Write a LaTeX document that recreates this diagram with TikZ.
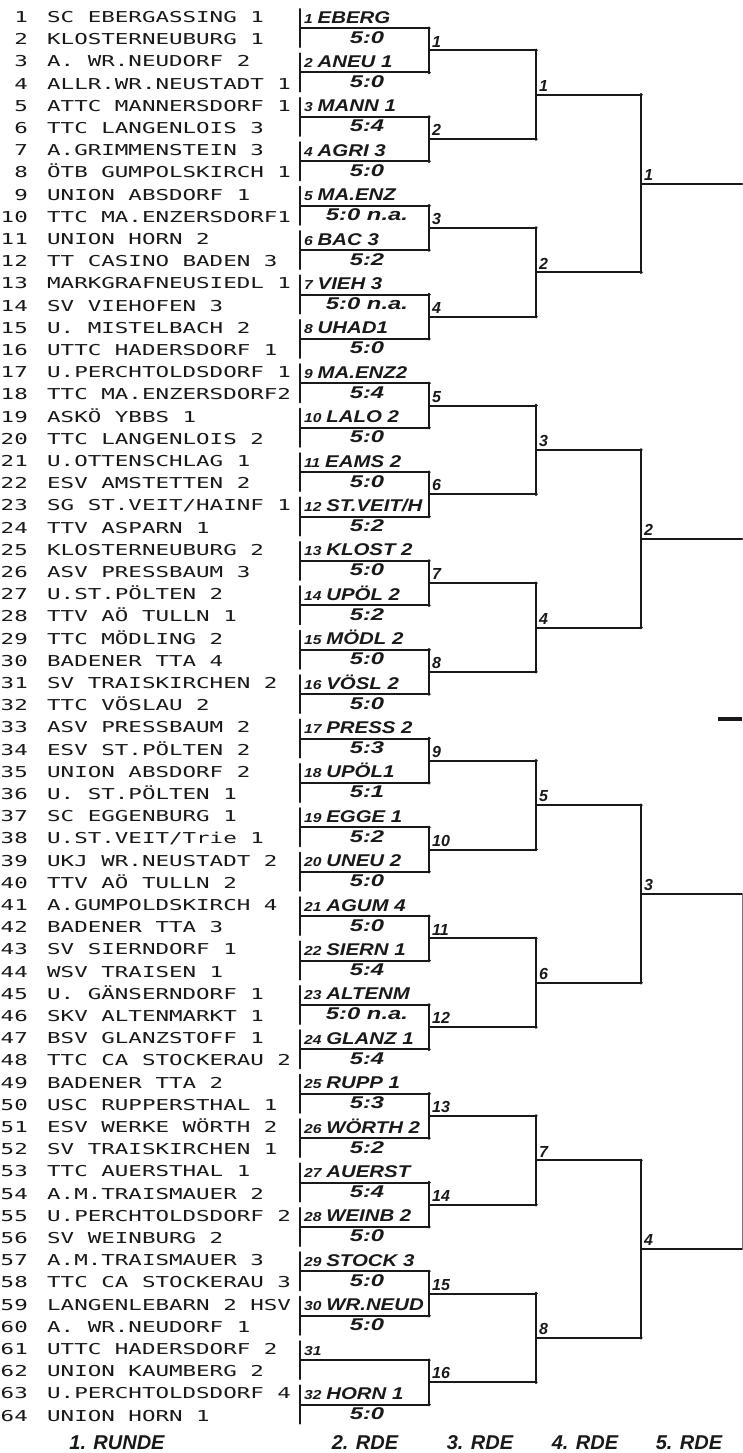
\documentclass[tikz,border=0pt]{standalone}
\usepackage{fontspec}
\usepackage{graphicx}
\newfontfamily\listfont{DejaVu Sans Mono}
\newfontfamily\handfont{Liberation Sans}
\definecolor{ink}{gray}{0.1}
\newcommand{\wide}[1]{\scalebox{1.5}[1]{#1}}
\newcommand{\hand}[1]{\scalebox{1.2}[1]{#1}}
\newcommand{\handres}[1]{\scalebox{1.4}[1]{#1}}
\newcommand{\nr}[1]{{\fontsize{13}{13}\selectfont #1}\hspace{4pt}}
\tikzset{
  seed/.style={anchor=base east, inner sep=0pt, text=ink, font=\listfont\fontsize{15}{15}\selectfont},
  team/.style={anchor=base west, inner sep=0pt, text=ink, font=\listfont\fontsize{15}{15}\selectfont},
  winner/.style={anchor=base west, inner sep=0pt, text=ink, font=\handfont\bfseries\itshape\fontsize{17}{17}\selectfont},
  result/.style={anchor=base, inner sep=0pt, text=ink, font=\handfont\bfseries\itshape\fontsize{17}{17}\selectfont},
  rnd/.style={anchor=south west, inner sep=0pt, xshift=3pt, yshift=3pt, text=ink, font=\handfont\bfseries\itshape\fontsize{16}{16}\selectfont},
  rdelabel/.style={anchor=base, inner sep=0pt, text=ink, font=\handfont\bfseries\itshape\fontsize{20}{20}\selectfont},
  bracket/.style={draw=ink, line width=2pt, line cap=round, line join=round},
}
\begin{document}
\begin{tikzpicture}[x=1pt,y=-1pt]
\fill[white] (0,0) rectangle (742,1453);
\useasboundingbox (0,0) rectangle (742,1453);

% 1. Runde: the 64 clubs
\foreach \n/\club in {1/{SC EBERGASSING 1}, 2/{KLOSTERNEUBURG 1}, 3/{A. WR.NEUDORF 2},
    4/{ALLR.WR.NEUSTADT 1}, 5/{ATTC MANNERSDORF 1}, 6/{TTC LANGENLOIS 3},
    7/{A.GRIMMENSTEIN 3}, 8/{ÖTB GUMPOLSKIRCH 1}, 9/{UNION ABSDORF 1},
    10/{TTC MA.ENZERSDORF1}, 11/{UNION HORN 2}, 12/{TT CASINO BADEN 3},
    13/{MARKGRAFNEUSIEDL 1}, 14/{SV VIEHOFEN 3}, 15/{U. MISTELBACH 2},
    16/{UTTC HADERSDORF 1}, 17/{U.PERCHTOLDSDORF 1}, 18/{TTC MA.ENZERSDORF2},
    19/{ASKÖ YBBS 1}, 20/{TTC LANGENLOIS 2}, 21/{U.OTTENSCHLAG 1},
    22/{ESV AMSTETTEN 2}, 23/{SG ST.VEIT/HAINF 1}, 24/{TTV ASPARN 1},
    25/{KLOSTERNEUBURG 2}, 26/{ASV PRESSBAUM 3}, 27/{U.ST.PÖLTEN 2},
    28/{TTV AÖ TULLN 1}, 29/{TTC MÖDLING 2}, 30/{BADENER TTA 4},
    31/{SV TRAISKIRCHEN 2}, 32/{TTC VÖSLAU 2}, 33/{ASV PRESSBAUM 2},
    34/{ESV ST.PÖLTEN 2}, 35/{UNION ABSDORF 2}, 36/{U. ST.PÖLTEN 1},
    37/{SC EGGENBURG 1}, 38/{U.ST.VEIT/Trie 1}, 39/{UKJ WR.NEUSTADT 2},
    40/{TTV AÖ TULLN 2}, 41/{A.GUMPOLDSKIRCH 4}, 42/{BADENER TTA 3},
    43/{SV SIERNDORF 1}, 44/{WSV TRAISEN 1}, 45/{U. GÄNSERNDORF 1},
    46/{SKV ALTENMARKT 1}, 47/{BSV GLANZSTOFF 1}, 48/{TTC CA STOCKERAU 2},
    49/{BADENER TTA 2}, 50/{USC RUPPERSTHAL 1}, 51/{ESV WERKE WÖRTH 2},
    52/{SV TRAISKIRCHEN 1}, 53/{TTC AUERSTHAL 1}, 54/{A.M.TRAISMAUER 2},
    55/{U.PERCHTOLDSDORF 2}, 56/{SV WEINBURG 2}, 57/{A.M.TRAISMAUER 3},
    58/{TTC CA STOCKERAU 3}, 59/{LANGENLEBARN 2 HSV}, 60/{A. WR.NEUDORF 1},
    61/{UTTC HADERSDORF 2}, 62/{UNION KAUMBERG 2}, 63/{U.PERCHTOLDSDORF 4},
    64/{UNION HORN 1}}{
  \node[seed] (n\n) at (28,{22.5+(\n-1)*22.2}) {\wide{\n}};
  \node[team] (t\n) at (47,{22.5+(\n-1)*22.2}) {\wide{\club}};
}

% bracket points, one column per round
\foreach \k in {1,...,32} \coordinate (a\k) at (300,{28.1+(\k-1)*44.4});
\foreach \j in {1,...,16} \coordinate (b\j) at (429,{50.3+(\j-1)*88.8});
\foreach \m in {1,...,8} \coordinate (c\m) at (536,{94.7+(\m-1)*177.6});
\foreach \q in {1,...,4} \coordinate (d\q) at (641,{183.5+(\q-1)*355.2});
\foreach \q in {1,...,4} \coordinate (e\q) at (742,{183.5+(\q-1)*355.2});

% 1. -> 2. Runde
\foreach \k in {1,...,32}
  \draw[bracket] ([yshift=19.1pt]a\k) -- ([yshift=-19.1pt]a\k) (a\k) -- (a\k -| b1);
% 2. -> 3. Runde
\foreach \j [evaluate=\j as \ka using int(2*\j-1), evaluate=\j as \kb using int(2*\j)] in {1,...,16}{
  \draw[bracket] (a\ka -| b\j) -- (a\kb -| b\j) (b\j) -- (b\j -| c1);
  \fill[ink] (a\ka -| b\j) circle (1.8pt) (a\kb -| b\j) circle (1.8pt);
  \node[rnd] (r2-\j) at (b\j) {\j};
}
% 3. -> 4. Runde
\foreach \m [evaluate=\m as \ja using int(2*\m-1), evaluate=\m as \jb using int(2*\m)] in {1,...,8}{
  \draw[bracket] (b\ja -| c\m) -- (b\jb -| c\m) (c\m) -- (c\m -| d1);
  \fill[ink] (b\ja -| c\m) circle (1.8pt) (b\jb -| c\m) circle (1.8pt);
  \node[rnd] (r3-\m) at (c\m) {\m};
}
% 4. -> 5. Runde
\foreach \q [evaluate=\q as \ma using int(2*\q-1), evaluate=\q as \mb using int(2*\q)] in {1,...,4}{
  \draw[bracket] (c\ma -| d\q) -- (c\mb -| d\q) (d\q) -- (e\q);
  \fill[ink] (c\ma -| d\q) circle (1.8pt) (c\mb -| d\q) circle (1.8pt);
  \node[rnd] (r4-\q) at (d\q) {\q};
}
% 5. Runde, cut at the edge of the sheet
\draw[bracket, line width=1.2pt, ink!60] ([xshift=0.3pt]e3) -- ([xshift=0.3pt]e4);

% winners written above, results below
\foreach \k/\win in {1/EBERG, 2/{ANEU 1}, 3/{MANN 1}, 4/{AGRI 3}, 5/{MA.ENZ}, 6/{BAC 3},
    7/{VIEH 3}, 8/{UHAD1}, 9/{MA.ENZ2}, 10/{LALO 2}, 11/{EAMS 2}, 12/{ST.VEIT/H},
    13/{KLOST 2}, 14/{UPÖL 2}, 15/{MÖDL 2}, 16/{VÖSL 2}, 17/{PRESS 2}, 18/{UPÖL1},
    19/{EGGE 1}, 20/{UNEU 2}, 21/{AGUM 4}, 22/{SIERN 1}, 23/{ALTENM}, 24/{GLANZ 1},
    25/{RUPP 1}, 26/{WÖRTH 2}, 27/{AUERST}, 28/{WEINB 2}, 29/{STOCK 3}, 30/{WR.NEUD},
    31/{}, 32/{HORN 1}}
  \node[winner] (w\k) at ([shift={(4,-5)}]a\k) {\hand{\nr{\k}\win}};
\foreach \k/\res in {1/{5:0}, 2/{5:0}, 3/{5:4}, 4/{5:0}, 5/{5:0 n.a.}, 6/{5:2},
    7/{5:0 n.a.}, 8/{5:0}, 9/{5:4}, 10/{5:0}, 11/{5:0}, 12/{5:2}, 13/{5:0}, 14/{5:2},
    15/{5:0}, 16/{5:0}, 17/{5:3}, 18/{5:1}, 19/{5:2}, 20/{5:0}, 21/{5:0}, 22/{5:4},
    23/{5:0 n.a.}, 24/{5:4}, 25/{5:3}, 26/{5:2}, 27/{5:4}, 28/{5:0}, 29/{5:0},
    30/{5:0}, 32/{5:0}}
  \node[result] (p\k) at ([shift={(67,15)}]a\k) {\handres{\res}};

\draw[ink, line width=3.5pt] (718,719) -- (742,719);

% round captions
\node[rdelabel] (rde1) at (117,1449) {1. RUNDE};
\node[rdelabel] (rde2) at (365,1449) {2. RDE};
\node[rdelabel] (rde3) at (480,1449) {3. RDE};
\node[rdelabel] (rde4) at (585,1449) {4. RDE};
\node[rdelabel] (rde5) at (689,1449) {5. RDE};
\end{tikzpicture}
\end{document}
